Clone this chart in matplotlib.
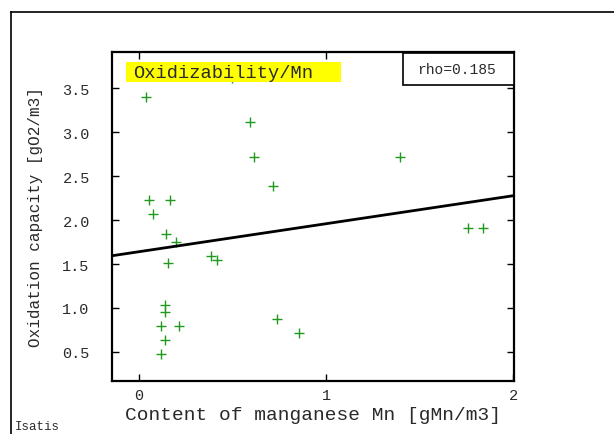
import numpy as np
import matplotlib.pyplot as plt
from matplotlib.patches import Rectangle
from matplotlib.lines import Line2D

# ── data ─────────────────────────────────────────────────────────────────────
mn = [0.037, 0.595, 0.615, 1.396, 0.715, 0.055, 0.166, 0.075, 0.146, 0.198,
      1.758, 1.838, 0.385, 0.415, 0.157, 0.137, 0.137, 0.116, 0.214, 0.738,
      0.857, 0.137, 0.116, 0.497]
oxid = [3.394, 3.113, 2.72, 2.72, 2.383, 2.231, 2.231, 2.072, 1.837, 1.754,
        1.909, 1.909, 1.594, 1.549, 1.515, 1.034, 0.955, 0.80, 0.80, 0.875,
        0.712, 0.633, 0.474, 3.61]
fit_slope = 0.318
fit_intercept = 1.64
rho = 0.185

x_ticks = [0, 1, 2]
y_ticks = [0.5, 1.0, 1.5, 2.0, 2.5, 3.0, 3.5]

MONO = ['Liberation Mono', 'DejaVu Sans Mono']
TXT = '#2a2a2a'

# ── figure ──────────────────────────────────────────────────────────────────
fig = plt.figure(figsize=(6.14, 4.35), dpi=100)
ax = fig.add_axes([112 / 614, 1 - 382 / 435, 402 / 614, 329 / 435])

ax.plot(mn, oxid, '+', color='#1f9a1f', markersize=7, markeredgewidth=1.0, zorder=2)

xlim = (-0.145, 2.005)
xs = np.array(xlim)
ax.plot(xs, fit_intercept + fit_slope * xs, color='black', lw=2, zorder=3)

ax.set_xlim(*xlim)
ax.set_ylim(0.17, 3.91)
ax.set_xticks(x_ticks)
ax.set_yticks(y_ticks)
ax.set_xticklabels([str(t) for t in x_ticks], family=MONO, fontsize=11, color=TXT)
ax.set_yticklabels([f'{t:.1f}' for t in y_ticks], family=MONO, fontsize=11, color=TXT)
ax.tick_params(direction='in', length=5, width=1, top=True, right=True, pad=5)
ax.tick_params(axis='y', pad=16)
for s in ax.spines.values():
    s.set_linewidth(1.6)

ax.set_xlabel('Content of manganese Mn [gMn/m3]', family=MONO, fontsize=14,
              labelpad=3, color=TXT)
ax.set_ylabel('Oxidation capacity [gO2/m3]', family=MONO, fontsize=11.5,
              labelpad=14, color=TXT)

# title label in yellow box
ax.add_patch(Rectangle((0.035, 0.909), 0.535, 0.061, transform=ax.transAxes,
                       facecolor='#ffff00', edgecolor='none', zorder=4))
ax.text(0.052, 0.939, 'Oxidizability/Mn', transform=ax.transAxes, family=MONO,
        fontsize=13.5, va='center', ha='left', zorder=5, color=TXT)

# rho box
ax.add_patch(Rectangle((0.724, 0.900), 0.276, 0.097, transform=ax.transAxes,
                       facecolor='white', edgecolor='black', lw=1.2, zorder=4))
ax.text(0.858, 0.948, f'rho={rho}', transform=ax.transAxes, family=MONO,
        fontsize=10.5, va='center', ha='center', zorder=5, color=TXT)

# outer frame
fig.add_artist(Line2D([11 / 614, 11 / 614], [0, 1 - 13 / 435], color='black', lw=1.2))
fig.add_artist(Line2D([11 / 614, 1], [1 - 13 / 435, 1 - 13 / 435], color='black', lw=1.2))

fig.text(15 / 614, 1 - 430 / 435, 'Isatis', family=MONO, fontsize=9, va='baseline',
         color=TXT)

fig.savefig('out.png', dpi=100)
